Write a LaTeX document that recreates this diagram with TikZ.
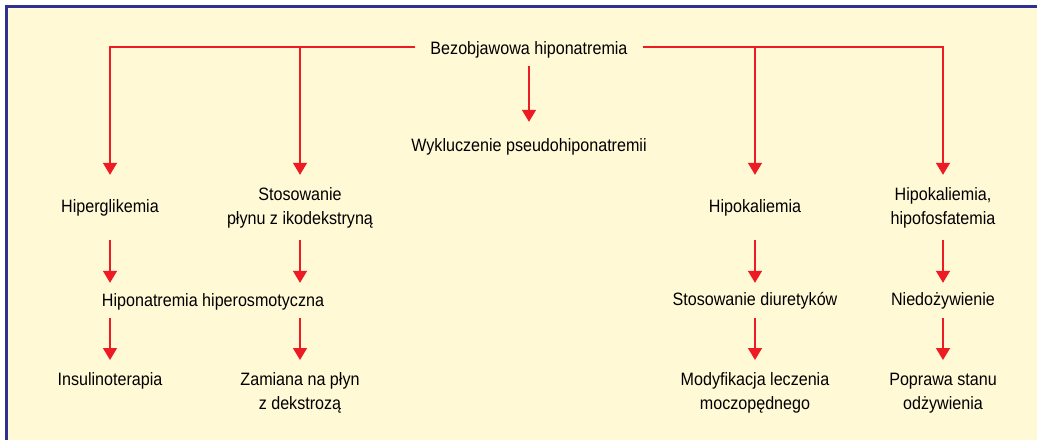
\documentclass[tikz,border=0pt]{standalone}
\usepackage{fontspec}
\setmainfont{Liberation Sans}[FakeStretch=0.9]
\usetikzlibrary{arrows.meta}
\definecolor{bgcream}{RGB}{255,249,214}
\definecolor{frameblue}{RGB}{46,49,146}
\definecolor{arrred}{RGB}{237,28,36}
\begin{document}
\begin{tikzpicture}[x=1pt,y=-1pt,
  lbl/.style={inner sep=0pt, minimum height=24pt, align=center, font=\fontsize{17.9}{24}\selectfont},
  tall/.style={lbl, minimum height=48pt},
  link/.style={draw=arrred, line width=1.5pt, -{Triangle[length=12pt,width=14pt]}}]
\useasboundingbox (0,0) rectangle (1037,440);
\fill[white] (0,0) rectangle (1037,440);
\fill[bgcream] (6.5,6.5) rectangle (1037,440);
\draw[frameblue, line width=3pt] (6.5,440) -- (6.5,6.5) -- (1037,6.5);

\node[lbl] (top) at (529,50) {Bezobjawowa hiponatremia};
\node[lbl] (wyk) at (529,147) {Wykluczenie pseudohiponatremii};
\node[tall] (hg) at (110,208) {Hiperglikemia};
\node[tall] (stos) at (300,208) {Stosowanie\\płynu z ikodekstryną};
\node[tall] (hk) at (755,208) {Hipokaliemia};
\node[tall] (hkh) at (943,208) {Hipokaliemia,\\hipofosfatemia};
\node[lbl] (hh) at (213,302) {Hiponatremia hiperosmotyczna};
\node[lbl] (diu) at (755,301) {Stosowanie diuretyków};
\node[lbl] (nie) at (943,301) {Niedożywienie};
\node[lbl, anchor=north] (ins) at (110,369) {Insulinoterapia};
\node[tall, anchor=north] (zam) at (300,369) {Zamiana na płyn\\z dekstrozą};
\node[tall, anchor=north] (mod) at (755,369) {Modyfikacja leczenia\\moczopędnego};
\node[tall, anchor=north] (pop) at (943,369) {Poprawa stanu\\odżywienia};

\draw[link, shorten <=15pt, shorten >=9pt] ([yshift=3pt]top.west) -| (hg.north);
\draw[link, shorten <=15pt, shorten >=9pt] ([yshift=3pt]top.west) -| (stos.north);
\draw[link, shorten <=15pt, shorten >=9pt] ([yshift=3pt]top.east) -| (hk.north);
\draw[link, shorten <=15pt, shorten >=9pt] ([yshift=3pt]top.east) -| (hkh.north);
\draw[link, shorten <=4pt, shorten >=13pt] (top.south) -- (wyk.north);

\draw[link, shorten <=8pt, shorten >=7pt] (hg.south) -- (hg.south |- hh.north);
\draw[link, shorten <=8pt, shorten >=7pt] (stos.south) -- (stos.south |- hh.north);
\draw[link, shorten <=8pt, shorten >=6pt] (hk.south) -- (diu.north);
\draw[link, shorten <=8pt, shorten >=6pt] (hkh.south) -- (nie.north);

\draw[link, shorten <=4pt, shorten >=9pt] (hh.south -| ins.north) -- (ins.north);
\draw[link, shorten <=4pt, shorten >=9pt] (hh.south -| zam.north) -- (zam.north);
\draw[link, shorten <=5pt, shorten >=9pt] (diu.south) -- (mod.north);
\draw[link, shorten <=5pt, shorten >=9pt] (nie.south) -- (pop.north);
\end{tikzpicture}
\end{document}
